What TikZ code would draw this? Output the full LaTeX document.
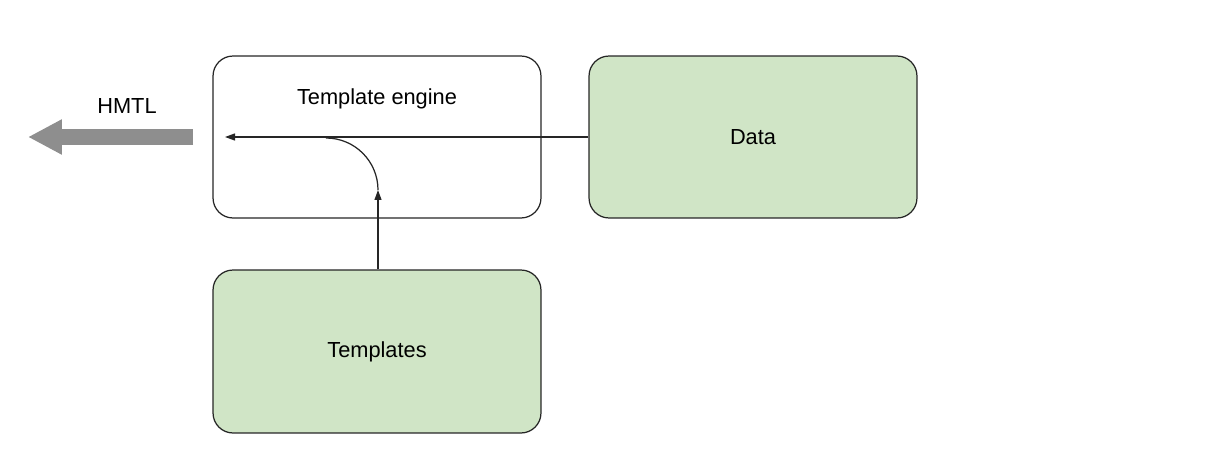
\documentclass[tikz,border=0pt]{standalone}
\usepackage{fontspec}
\setmainfont{Liberation Sans}
\usepackage{tikz}
\usetikzlibrary{arrows.meta,positioning,calc}
\definecolor{boxGreen}{HTML}{D0E5C6}
\definecolor{edgeDark}{HTML}{262626}
\definecolor{outGray}{HTML}{8E8E8E}

\begin{document}
\begin{tikzpicture}[
    x=0.02cm, y=0.02cm,
    every node/.style={font=\fontsize{12.4}{14}\selectfont},
    enginebox/.style={rectangle, draw=edgeDark, line width=0.7pt, rounded corners=0.4cm, fill=white, minimum width=6.56cm, minimum height=3.24cm},
    greenbox/.style={enginebox, fill=boxGreen},
    line/.style={draw=edgeDark, line width=0.7pt, -{Triangle[length=2mm, width=1.4mm]}},
    outArrow/.style={draw=outGray, line width=0.32cm, -{Triangle[length=0.68cm, width=0.66cm]}}
]
\useasboundingbox (0,0) rectangle (1206,464);

% Nodes
\node[enginebox, label={[anchor=center, yshift=-0.86cm]north:Template engine}] (engine) at (377,327) {};
\node[greenbox] (data) at (753,327) {Data};
\node[greenbox, minimum height=3.26cm] (templates) at (377,112.5) {Templates};
\node (html) at (127,358) {HMTL};

\coordinate (enginein) at (225,327);
\coordinate (bend) at (378,274);
\coordinate (outstart) at (193,327);
\coordinate (outend) at (28,327);

% Connections
\draw[line] (data.west) -- (enginein);
\draw[line] (templates.north -| bend) -- (bend);
\draw[draw=edgeDark, line width=0.7pt] (bend) arc[start angle=0, end angle=90, radius=52];
\draw[outArrow] (outstart) -- (outend);

\end{tikzpicture}
\end{document}
